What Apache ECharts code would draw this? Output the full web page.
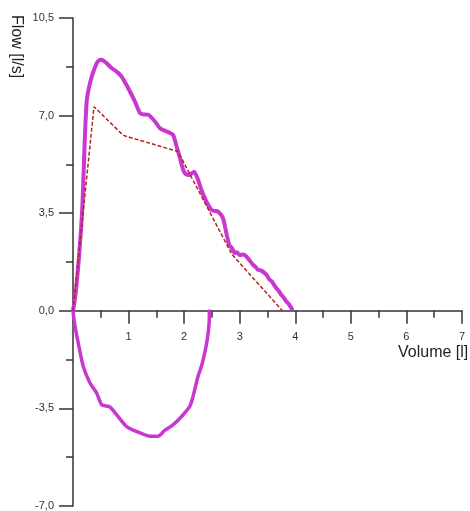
<!DOCTYPE html>
<html>
<head>
<meta charset="utf-8">
<script src="https://cdn.jsdelivr.net/npm/echarts@6/dist/echarts.min.js"></script>
<style>html,body{margin:0;padding:0;background:#fff}#c{width:470px;height:511px}</style>
</head>
<body>
<div id="c"></div>
<script>
// Measured expiratory flow-volume curve [volume l, flow l/s]
var expiratory = [
  [0,0],[0.04,0.5],[0.09,1.5],[0.144,2.9],[0.17,3.8],[0.185,4.6],[0.21,6.0],[0.246,7.5],
  [0.31,8.2],[0.40,8.76],[0.46,8.97],[0.52,9.0],[0.58,8.92],[0.70,8.7],[0.80,8.55],[0.875,8.4],
  [0.995,7.98],[1.115,7.5],[1.205,7.09],[1.28,7.04],[1.355,7.03],[1.475,6.79],[1.565,6.55],
  [1.685,6.43],[1.80,6.31],[1.865,5.89],[1.925,5.47],[1.985,5.05],[2.03,4.9],[2.10,4.87],
  [2.18,4.99],[2.25,4.70],[2.31,4.34],[2.40,3.92],[2.49,3.62],[2.55,3.58],[2.61,3.56],
  [2.70,3.32],[2.76,2.78],[2.81,2.37],[2.86,2.25],[2.91,2.07],[2.95,2.1],[3.0,2.0],[3.06,2.02],
  [3.12,1.95],[3.18,1.8],[3.24,1.65],[3.28,1.58],[3.33,1.47],[3.38,1.45],[3.45,1.35],[3.49,1.27],
  [3.54,1.11],[3.58,1.05],[3.62,0.92],[3.66,0.81],[3.70,0.72],[3.75,0.57],[3.79,0.48],
  [3.84,0.33],[3.88,0.25],[3.93,0.1],[3.95,0.02]
];
// Measured inspiratory curve
var inspiratory = [
  [0,0],[0.018,-0.32],[0.05,-0.7],[0.095,-1.16],[0.185,-2.0],[0.306,-2.59],[0.426,-2.95],
  [0.516,-3.37],[0.665,-3.45],[0.786,-3.73],[0.966,-4.15],[1.205,-4.38],[1.385,-4.50],
  [1.53,-4.50],[1.65,-4.29],[1.80,-4.09],[1.955,-3.79],[2.10,-3.43],[2.16,-3.07],[2.25,-2.35],
  [2.31,-2.0],[2.37,-1.52],[2.415,-1.04],[2.45,-0.44],[2.455,0.05]
];
// Predicted curve (dashed)
var predicted = [[0,0],[0.378,7.32],[0.905,6.29],[1.89,5.71],[2.86,2.02],[3.77,0]];

var xTicks = [0,1,2,3,4,5,6,7];
var yTicks = [-7.0,-3.5,0,3.5,7.0,10.5];

var gridTop = 18, gridH = 488;
var yMin = yTicks[0], yMax = yTicks[yTicks.length-1];
// distance from the grid bottom up to the zero line
var zeroOffset = gridH * (0 - yMin) / (yMax - yMin);

var chart = echarts.init(document.getElementById('c'));
var axisCol = '#333';
chart.setOption({
  animation: false,
  grid: {left: 73, top: gridTop, width: 389, height: gridH, containLabel: false, outerBoundsMode: 'none'},
  xAxis: {
    type: 'value', min: xTicks[0], max: xTicks[xTicks.length-1], interval: 1,
    position: 'bottom', offset: -zeroOffset,
    axisLine: {onZero: false, lineStyle: {color: axisCol, width: 1.5}},
    axisTick: {show: true, length: 13, lineStyle: {color: axisCol, width: 1.5}},
    minorTick: {show: true, splitNumber: 2, length: 7, lineStyle: {color: axisCol, width: 1.5}},
    axisLabel: {color: '#333', fontFamily: 'Liberation Sans, Arial', fontSize: 11, margin: 21,
      formatter: function(v){ return v === 0 ? '' : String(v); }},
    splitLine: {show: false}
  },
  yAxis: {
    type: 'value', min: yMin, max: yMax, interval: 3.5,
    axisLine: {show: true, onZero: false, lineStyle: {color: axisCol, width: 1.5}},
    axisTick: {show: true, length: 14, lineStyle: {color: axisCol, width: 1.5}},
    minorTick: {show: true, splitNumber: 2, length: 7, lineStyle: {color: axisCol, width: 1.5}},
    axisLabel: {color: '#333', fontFamily: 'Liberation Sans, Arial', fontSize: 11, margin: 19,
      formatter: function(v){ return v.toFixed(1).replace('.', ','); }},
    splitLine: {show: false}
  },
  graphic: [
    {type: 'text', left: 398, top: 345,
      style: {text: 'Volume [l]', fontSize: 16, fontFamily: 'Liberation Sans, Arial', fill: '#222'}},
    {type: 'text', x: 24, y: 15, rotation: -Math.PI/2,
      style: {text: 'Flow [l/s]', fontSize: 16, fontFamily: 'Liberation Sans, Arial', fill: '#222'}}
  ],
  series: [
    {type: 'line', data: predicted, showSymbol: false, z: 3,
      lineStyle: {color: '#b3261e', width: 1.5, type: [4, 2]}},
    {type: 'line', data: expiratory, showSymbol: false, smooth: 0.2, z: 2,
      lineStyle: {color: '#c936d0', width: 4}},
    {type: 'line', data: inspiratory, showSymbol: false, smooth: 0.2, z: 2,
      lineStyle: {color: '#c936d0', width: 3.5}}
  ]
});
</script>
</body>
</html>
